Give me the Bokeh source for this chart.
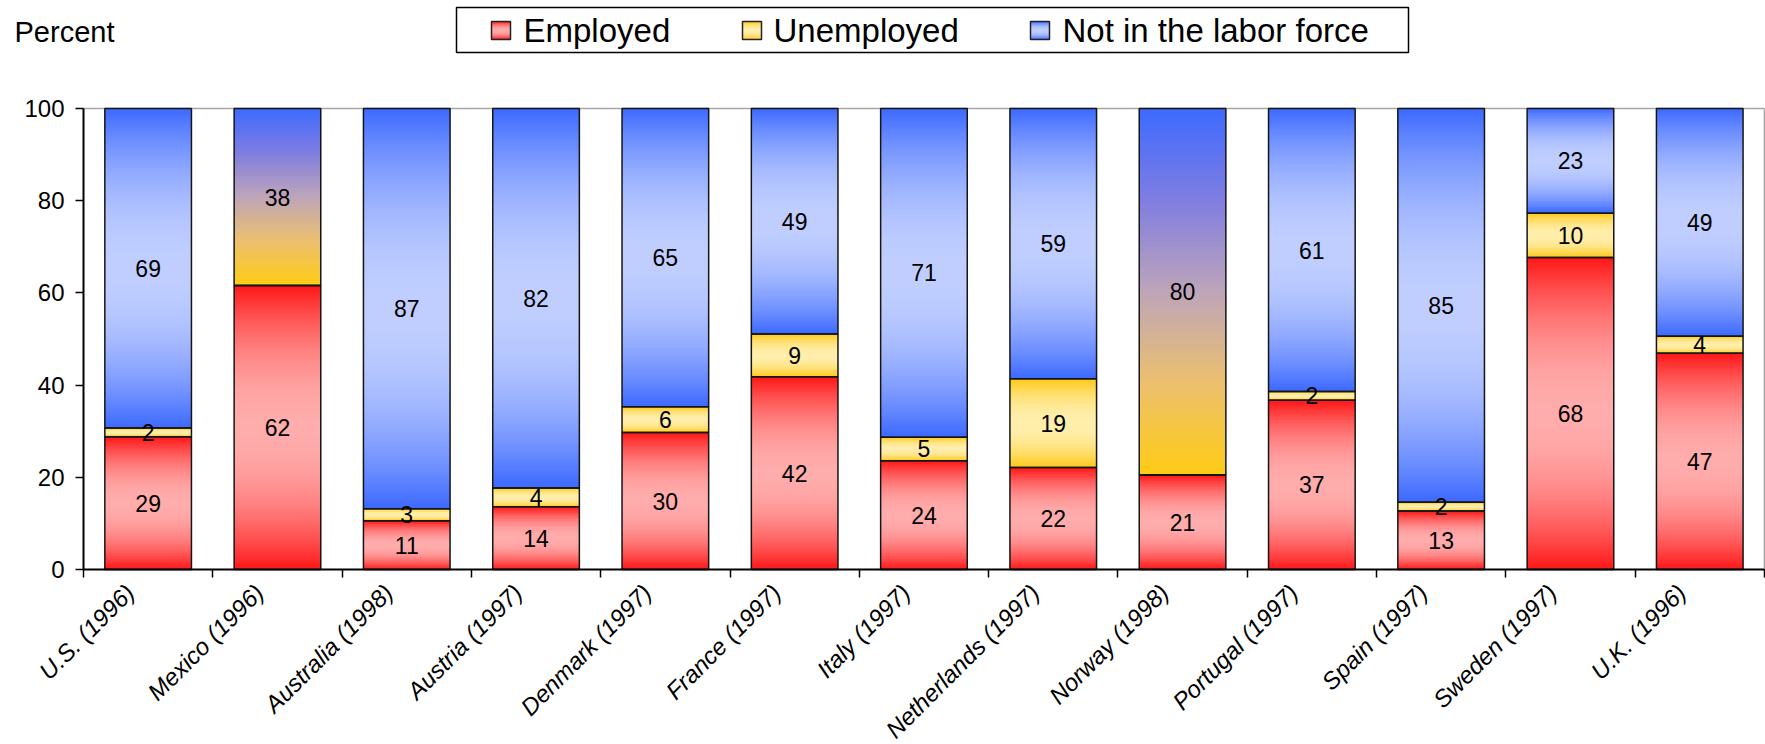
import numpy as np
from bokeh.plotting import figure
from bokeh.models import Range1d, FixedTicker, CustomJSTickFormatter
from bokeh.core.properties import value
from bokeh.embed import file_html
from bokeh.resources import INLINE

# ---------------- data ----------------
countries = ["U.S. (1996)", "Mexico (1996)", "Australia (1998)", "Austria (1997)",
             "Denmark (1997)", "France (1997)", "Italy (1997)", "Netherlands (1997)",
             "Norway (1998)", "Portugal (1997)", "Spain (1997)", "Sweden (1997)",
             "U.K. (1996)"]
employed = [28.8, 61.6, 10.6, 13.6, 29.7, 41.8, 23.6, 22.1, 20.5, 36.7, 12.7, 67.7, 46.9]
unemployed = [1.9, 0.0, 2.6, 4.1, 5.6, 9.3, 5.1, 19.3, 0.0, 1.9, 1.9, 9.6, 3.7]
not_in_lf = [69.3, 38.4, 86.8, 82.3, 64.7, 48.9, 71.3, 58.6, 79.5, 61.4, 85.4, 22.7, 49.4]
series_names = ["Employed", "Unemployed", "Not in the labor force"]
y_ticks = [0, 20, 40, 60, 80, 100]
y_title = "Percent"

# ---------------- styles / layout ----------------
FONT = "Liberation Sans"
EDGE = {"emp": (255, 22, 22), "unemp": (255, 200, 20), "nilf": (60, 105, 255)}
CENTER = {"emp": (255, 172, 172), "unemp": (255, 238, 172), "nilf": (192, 206, 255)}
RAMP = [(0.0, (255, 204, 20)), (0.25, (236, 192, 110)), (0.5, (190, 165, 185)),
        (0.75, (128, 125, 225)), (1.0, (61, 107, 255))]
BAR_W = 0.67
W, H = 1765, 744
AXIS_X_PX = 83.0      # page x of the value axis
CAT_PX = 129.3        # pixels per category
Y0_PX = 569.0         # page y of the zero line
UNIT_PX = 4.61        # pixels per percentage point
LABEL_SHIFT = 0.14    # category labels sit slightly left of the bar centre

n_cat = len(countries)
x_lo = -0.5 - AXIS_X_PX / CAT_PX
x_hi = -0.5 + (W - AXIS_X_PX) / CAT_PX
y_hi = Y0_PX / UNIT_PX
y_lo = -(H - Y0_PX) / UNIT_PX


def px_x(px):
    return -0.5 + (px - AXIS_X_PX) / CAT_PX


def px_y(py):
    return (Y0_PX - py) / UNIT_PX


def hexc(c):
    return "#%02x%02x%02x" % tuple(int(round(max(0, min(255, v)))) for v in c)


def mix(c1, c2, m):
    return tuple(a + (b - a) * m for a, b in zip(c1, c2))


def center_color(key, tt):
    w = 1 - abs(2 * tt - 1)
    m = 1 - (1 - w) ** 2
    return hexc(mix(EDGE[key], CENTER[key], m))


def ramp_color(tt):
    for (t0, c0), (t1, c1) in zip(RAMP[:-1], RAMP[1:]):
        if t0 <= tt <= t1:
            return hexc(mix(c0, c1, (tt - t0) / (t1 - t0)))
    return hexc(RAMP[-1][1])


def fmt(v):
    return str(int(v + 0.5))


xpos = list(range(n_cat))
emp_top = list(employed)
une_top = [e + u for e, u in zip(employed, unemployed)]
nil_top = [e + u + n for e, u, n in zip(employed, unemployed, not_in_lf)]

p = figure(width=W, height=H, x_range=Range1d(x_lo, x_hi), y_range=Range1d(y_lo, y_hi),
           output_backend="svg", toolbar_location=None,
           min_border_left=0, min_border_right=0, min_border_top=0, min_border_bottom=0)
p.xgrid.visible = False
p.ygrid.visible = False
p.outline_line_color = None
p.background_fill_color = "white"
p.border_fill_color = "white"

# plot-area border (top and right, grey)
p.segment(x0=[-0.5], y0=[100], x1=[n_cat - 0.5], y1=[100], line_color="#a6a6a6", line_width=1.5)
p.segment(x0=[n_cat - 0.5], y0=[0], x1=[n_cat - 0.5], y1=[100], line_color="#a6a6a6", line_width=1.5)

# gradient slices
gx, gb, gt, gc = [], [], [], []
for i in range(n_cat):
    segs = [(0.0, emp_top[i], "emp"), (emp_top[i], une_top[i], "unemp"), (une_top[i], nil_top[i], "nilf")]
    special = unemployed[i] == 0
    for b, t, key in segs:
        h = t - b
        if h <= 0:
            continue
        n = max(3, int(h * UNIT_PX / 1.5))
        step = h / n
        for k in range(n):
            tt = (k + 0.5) / n
            col = ramp_color(tt) if (key == "nilf" and special) else center_color(key, tt)
            gx.append(xpos[i])
            gb.append(b + k * step)
            gt.append(min(t, b + (k + 1) * step + 0.6 * step))
            gc.append(col)
p.vbar(x=gx, bottom=gb, top=gt, width=BAR_W, fill_color=gc, line_color=None)

# segment outlines
OUT = "#151515"
for bots, tops in (([0] * n_cat, emp_top), (emp_top, une_top), (une_top, nil_top)):
    p.vbar(x=xpos, bottom=bots, top=tops, width=BAR_W, fill_color=None, line_color=OUT, line_width=1.5)

# value labels
lx, ly, lt = [], [], []
for i in range(n_cat):
    for b, v in ((0.0, employed[i]), (emp_top[i], unemployed[i]), (une_top[i], not_in_lf[i])):
        if v > 0:
            lx.append(xpos[i])
            ly.append(b + v / 2.0)
            lt.append(fmt(v))
p.text(x=lx, y=ly, text=lt, text_font=value(FONT), text_font_size=value("23px"),
       text_align="center", text_baseline="middle", text_color="black")

# y axis (fixed at the left edge of the first category)
ya = p.yaxis[0]
ya.fixed_location = -0.5
ya.bounds = (0, 100)
ya.ticker = FixedTicker(ticks=y_ticks)
ya.major_tick_out = 8
ya.major_tick_in = 0
ya.minor_tick_out = 0
ya.minor_tick_in = 0
ya.axis_line_width = 2
ya.axis_line_color = "black"
ya.major_tick_line_width = 1.5
ya.major_tick_line_color = "black"
ya.major_label_text_font = FONT
ya.major_label_text_font_size = "24px"
ya.major_label_text_color = "black"
ya.major_label_standoff = 11

# x axis (fixed at zero)
xa = p.xaxis[0]
xa.fixed_location = 0
xa.bounds = (-0.5, n_cat - 0.5)
xa.ticker = FixedTicker(ticks=[x - LABEL_SHIFT for x in xpos],
                        minor_ticks=[i - 0.5 for i in range(n_cat + 1)])
xa.formatter = CustomJSTickFormatter(args=dict(names=countries),
                                     code="return names[Math.round(tick)];")
xa.major_label_orientation = np.pi / 4
xa.major_tick_out = 0
xa.major_tick_in = 0
xa.minor_tick_out = 8
xa.minor_tick_in = 0
xa.minor_tick_line_width = 1.5
xa.minor_tick_line_color = "black"
xa.axis_line_width = 2
xa.axis_line_color = "black"
xa.major_label_text_font = FONT
xa.major_label_text_font_style = "italic"
xa.major_label_text_font_size = "24px"
xa.major_label_text_color = "black"
xa.major_label_standoff = 11

# ---------------- title and legend ----------------
p.text(x=[px_x(14)], y=[px_y(31)], text=[y_title], text_font=value(FONT), text_font_size=value("29px"),
       text_align="left", text_baseline="middle", text_color="black")

p.quad(left=[px_x(456)], right=[px_x(1408)], top=[px_y(7)], bottom=[px_y(52)],
       fill_color=None, line_color="black", line_width=1.5)

keys = ["emp", "unemp", "nilf"]
sq_left_px = [491, 742, 1030]
txt_left_px = [523, 773, 1062]
SQ = 18
CY = 30
for key, sl, tl, name in zip(keys, sq_left_px, txt_left_px, series_names):
    n = 9
    st = SQ / n
    qb, qt, qc = [], [], []
    for k in range(n):
        tt = (k + 0.5) / n
        qb.append(px_y(CY + SQ / 2 - k * st))
        qt.append(px_y(CY + SQ / 2 - (k + 1) * st - 0.5))
        qc.append(center_color(key, tt))
    p.quad(left=[px_x(sl)] * n, right=[px_x(sl + SQ + 1)] * n, bottom=qb, top=qt, fill_color=qc, line_color=None)
    p.quad(left=[px_x(sl)], right=[px_x(sl + SQ + 1)], bottom=[px_y(CY + SQ / 2)], top=[px_y(CY - SQ / 2)],
           fill_color=None, line_color="#222222", line_width=1.5)
    p.text(x=[px_x(tl)], y=[px_y(CY)], text=[name], text_font=value(FONT), text_font_size=value("33px"),
           text_align="left", text_baseline="middle", text_color="black")

open("out.html", "w").write(file_html(p, INLINE))
